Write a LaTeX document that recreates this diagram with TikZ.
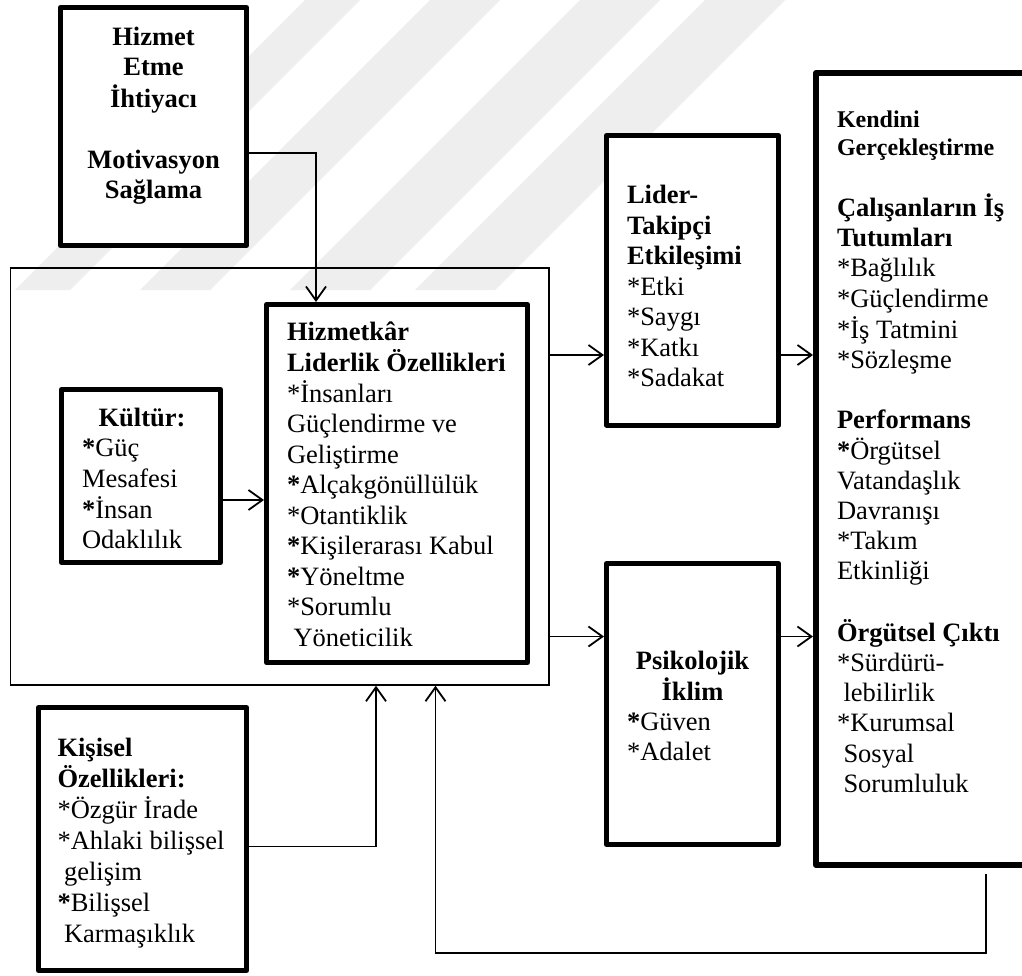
\documentclass[tikz,border=0pt]{standalone}
\usepackage{fontspec}
\setmainfont{Liberation Serif}
\usetikzlibrary{arrows.meta,calc}

% text sizes used in the boxes
\newcommand{\bodysize}{\fontsize{26.5}{30.5}\selectfont}
\newcommand{\rightsize}{\fontsize{26.5}{30.2}\selectfont}
\newcommand{\perssize}{\fontsize{26.5}{31}\selectfont}
\newcommand{\smallhead}{\fontsize{24}{27.5}\selectfont\bfseries}
% stacked lines; the block's baseline is the first line's baseline
\newcommand{\leftlines}[1]{\begin{tabular}[t]{@{}l@{}}#1\end{tabular}}
\newcommand{\centerlines}[1]{\begin{tabular}[t]{@{}c@{}}#1\end{tabular}}
% list markers (braced so that \\ does not take them as its star)
\newcommand{\rst}{{*}}
\newcommand{\bst}{\textbf{*}}

\definecolor{bandgray}{gray}{0.935}

\tikzset{
  heavybox/.style={draw, fill=white, line width=5pt, line join=round, inner sep=0pt},
  framebox/.style={draw, line width=1.4pt, inner sep=0pt},
  conn/.style={line width=1.8pt, line join=miter,
    -{Straight Barb[length=14pt,width=20pt,line width=1.8pt]}},
  label/.style={inner sep=0pt, outer sep=0pt, font=\bodysize},
  band/.style={fill=bandgray, draw=none},
}

\begin{document}
\begin{tikzpicture}[x=1pt,y=-1pt]
\useasboundingbox (0,0) rectangle (1022,975);
\fill[white] (0,0) rectangle (1022,975);

% ---- faint diagonal background bands ----
\foreach \a/\b in {15/70, 140/210, 290/370, 415/495}{
  \fill[band] (\a,290) -- (\b,290) -- ({\b+290},0) -- ({\a+290},0) -- cycle;
}

% ---- boxes ----
\node[heavybox, minimum width=186pt, minimum height=238pt] (need) at (153.5,126.5) {};
\node[framebox, minimum width=538.5pt, minimum height=417pt] (frame) at (279.75,476.5) {};
\node[heavybox, minimum width=261pt, minimum height=358pt] (sl) at (397,483.5) {};
\node[heavybox, minimum width=159pt, minimum height=173pt] (cult) at (141,476) {};
\node[heavybox, minimum width=172pt, minimum height=289.5pt] (lmx) at (692.5,280.25) {};
\node[heavybox, minimum width=172pt, minimum height=281pt] (clim) at (692.5,704) {};
\node[heavybox, line width=6pt, minimum width=224pt, minimum height=792pt] (out) at (928,469) {};
\node[heavybox, minimum width=208pt, minimum height=263pt] (pers) at (142.5,839) {};

% ---- texts ----
\node[label, anchor=base] (needtxt) at (153.5,45)
  {\bfseries\centerlines{Hizmet\\ Etme\\ İhtiyacı\\ \\ Motivasyon\\ Sağlama}};

\node[label, anchor=base west] (sltxt) at (287,340)
  {\leftlines{\textbf{Hizmetkâr}\\ \textbf{Liderlik Özellikleri}\\
   \rst İnsanları\\ Güçlendirme ve\\ Geliştirme\\ \bst Alçakgönüllülük\\
   \rst Otantiklik\\ \bst Kişilerarası Kabul\\ \bst Yöneltme\\ \rst Sorumlu\\
   \hspace{6.5pt}Yöneticilik}};

\node[label, anchor=base, font=\bodysize\bfseries] (culthead) at (142,426) {Kültür:};
\node[label, anchor=base west] (culttxt) at (82,456.5)
  {\leftlines{\bst Güç\\ Mesafesi\\ \bst İnsan\\ Odaklılık}};

\node[label, anchor=base west] (lmxtxt) at (627,203.5)
  {\leftlines{\textbf{Lider-}\\ \textbf{Takipçi}\\ \textbf{Etkileşimi}\\
   \rst Etki\\ \rst Saygı\\ \rst Katkı\\ \rst Sadakat}};

\node[label, anchor=base, font=\bodysize\bfseries] (climhead) at (692.5,669)
  {\centerlines{Psikolojik\\ İklim}};
\node[label, anchor=base west] (climtxt) at (627,730)
  {\leftlines{\bst Güven\\ \rst Adalet}};

\node[label, anchor=base west, font=\smallhead] (outhead) at (837,127.5)
  {\leftlines{Kendini\\ Gerçekleştirme}};
\node[label, anchor=base west, font=\rightsize] (outtxt) at (837,216.5)
  {\leftlines{\textbf{Çalışanların İş}\\ \textbf{Tutumları}\\ \rst Bağlılık\\
   \rst Güçlendirme\\ \rst İş Tatmini\\ \rst Sözleşme\\ \\ \textbf{Performans}\\
   \bst Örgütsel\\ Vatandaşlık\\ Davranışı\\ \rst Takım\\ Etkinliği\\ \\
   \textbf{Örgütsel Çıktı}\\ \rst Sürdürü-\\ \hspace{6.5pt}lebilirlik\\
   \rst Kurumsal\\ \hspace{6.5pt}Sosyal\\ \hspace{6.5pt}Sorumluluk}};

\node[label, anchor=base west, font=\perssize] (perstxt) at (57.5,756)
  {\leftlines{\textbf{Kişisel}\\ \textbf{Özellikleri:}\\ \rst Özgür İrade\\
   \rst Ahlaki bilişsel\\ \hspace{6.5pt}gelişim\\ \bst Bilişsel\\
   \hspace{6.5pt}Karmaşıklık}};

% ---- routing points ----
\coordinate (k1) at (316,153);
\coordinate (k2) at (0,500);
\coordinate (k3) at (0,355);
\coordinate (k4) at (0,636.5);
\coordinate (k5) at (376,846.5);
\coordinate (k6) at (986,953);
\coordinate (k7) at (435.5,953);

% ---- connectors ----
\draw[conn] (need.east |- k1) -| (sl.north -| k1);
\draw[conn] (cult.east |- k2) -- (sl.west |- k2);
\draw[conn] (frame.east |- k3) -- (lmx.west |- k3);
\draw[conn] (frame.east |- k4) -- (clim.west |- k4);
\draw[conn] (lmx.east |- k3) -- (out.west |- k3);
\draw[conn] (clim.east |- k4) -- (out.west |- k4);
\draw[conn] (pers.east |- k5) -| (frame.south -| k5);
\draw[conn] ([yshift=-6pt]out.south -| k6) -- (k6) -- (k7) -- (frame.south -| k7);
\end{tikzpicture}
\end{document}
